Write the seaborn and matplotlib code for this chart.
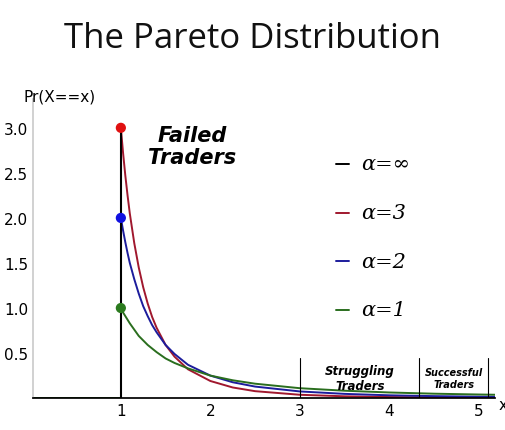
import matplotlib
matplotlib.use("Agg")
import matplotlib.pyplot as plt
import seaborn as sns
import pandas as pd

sns.set_theme(style="white")
plt.rcParams['font.family'] = ['DejaVu Sans']
plt.rcParams['text.color'] = 'black'
plt.rcParams['xtick.color'] = 'black'
plt.rcParams['ytick.color'] = 'black'

xs = [1.0, 1.025, 1.05, 1.075, 1.1, 1.15, 1.2, 1.25, 1.3, 1.35, 1.4, 1.5, 1.6, 1.75, 2.0, 2.25, 2.5, 3.0, 3.5, 4.0, 4.5, 5.0, 5.2]
a3 = [3.0, 2.72, 2.47, 2.25, 2.05, 1.72, 1.45, 1.23, 1.05, 0.90, 0.78, 0.59, 0.46, 0.32, 0.19, 0.118, 0.077, 0.037, 0.02, 0.012, 0.008, 0.005, 0.004]
a2 = [2.0, 1.86, 1.73, 1.61, 1.50, 1.32, 1.16, 1.02, 0.91, 0.81, 0.73, 0.59, 0.49, 0.37, 0.25, 0.176, 0.128, 0.074, 0.047, 0.031, 0.022, 0.016, 0.014]
a1 = [1.0, 0.95, 0.91, 0.87, 0.83, 0.76, 0.69, 0.64, 0.59, 0.55, 0.51, 0.44, 0.39, 0.33, 0.25, 0.198, 0.16, 0.11, 0.082, 0.0625, 0.049, 0.04, 0.037]
labels = ["α=∞", "α=3", "α=2", "α=1"]
colors = ["black", "#a0182e", "#1c1c9c", "#2a6e1e"]

df = pd.concat([
    pd.DataFrame({"x": xs, "y": a3, "s": labels[1]}),
    pd.DataFrame({"x": xs, "y": a2, "s": labels[2]}),
    pd.DataFrame({"x": xs, "y": a1, "s": labels[3]}),
])

fig = plt.figure(figsize=(5.06, 4.31), dpi=100)
ax = fig.add_axes([0.065, 0.074, 0.913, 0.694])
sns.lineplot(data=df, x="x", y="y", hue="s", palette=dict(zip(labels[1:], colors[1:])),
             ax=ax, legend=False, lw=1.4, sort=False)
ax.plot([0, 1], [0, 0], color=colors[3], lw=1.4)
ax.plot([1, 1], [0, 3.0], color="black", lw=1.5)
ax.scatter([1, 1, 1], [a3[0], a2[0], a1[0]], color=["#e01010", "#1010e0", "#2a7a1e"], s=40, zorder=5)
ax.set_xlim(0.017, 5.18)
ax.set_ylim(0, 3.32)
ax.set_xticks([1, 2, 3, 4, 5])
ax.set_yticks([0.5, 1.0, 1.5, 2.0, 2.5, 3.0])
ax.tick_params(labelsize=11, length=0)
ax.set_xlabel(""); ax.set_ylabel("")
for s in ["top", "right"]:
    ax.spines[s].set_visible(False)
ax.spines["left"].set_color("#cccccc")
ax.spines["bottom"].set_color("black")
ax.text(-0.02, 0.985, "Pr(X==x)", transform=ax.transAxes, fontsize=11, va="bottom", ha="left")
ax.text(5.22, -0.12, "x", fontsize=11)

ax.text(1.8, 2.8, "Failed\nTraders", fontsize=15, fontweight="bold", fontstyle="italic", ha="center", va="center", linespacing=1.1)

for i, (lab, c) in enumerate(zip(labels, colors)):
    y = 2.6 - i * 0.54
    ax.plot([3.4, 3.55], [y, y], color=c, lw=1.4)
    ax.text(3.68, y, lab, fontsize=15, family="DejaVu Serif", fontstyle="italic", va="center")

for xv in [3.0, 4.33, 5.1]:
    ax.plot([xv, xv], [0, 0.45], color="black", lw=0.8)
ax.text(3.67, 0.22, "Struggling\nTraders", fontsize=8.5, fontweight="bold", fontstyle="italic", ha="center", va="center")
ax.text(4.72, 0.22, "Successful\nTraders", fontsize=7, fontweight="bold", fontstyle="italic", ha="center", va="center")

fig.text(0.5, 0.91, "The Pareto Distribution", fontsize=25, ha="center", va="center", family="Open Sans", color="#111111")
fig.savefig("out.png", dpi=100)
